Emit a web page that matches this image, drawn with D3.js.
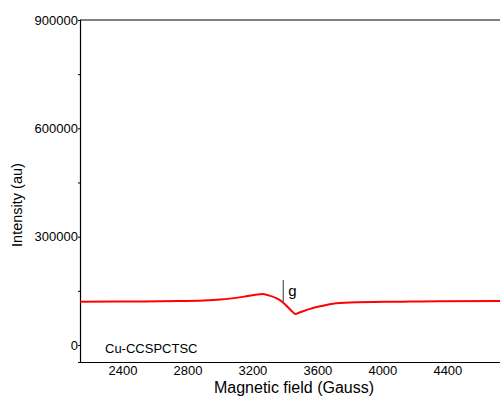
<!DOCTYPE html>
<html>
<head>
<meta charset="utf-8">
<script src="https://cdn.jsdelivr.net/npm/d3@7"></script>
<style>
  body { margin: 0; background: #fff; }
  svg { display: block; font-family: Arial, "Liberation Sans", sans-serif; }
</style>
</head>
<body>
<svg id="chart" width="500" height="398"></svg>
<script>
// EPR spectrum of Cu-CCSPCTSC
const fieldGauss = [2140, 2400, 2750, 2900, 3000, 3060, 3150, 3230, 3260, 3300, 3350, 3380, 3420, 3445, 3465, 3490, 3554, 3634, 3696, 3800, 4108, 4354, 4725];
const intensity  = [120000, 120500, 121800, 123500, 126000, 128500, 134000, 140000, 141000, 137500, 129000, 121000, 104000, 93000, 86000, 90000, 100000, 108800, 114500, 117700, 120000, 121500, 121800];
const xTicks = [2400, 2800, 3200, 3600, 4000, 4400];
const yTicks = [0, 300000, 600000, 900000];
const yMinorTicks = [150000, 450000, 750000];
const gField = 3390;
const sampleName = "Cu-CCSPCTSC";

const svg = d3.select("#chart");
const plotLeft = 80, plotRight = 500, plotTop = 20, plotBottom = 362;

const x = d3.scaleLinear().domain([2139, 4724]).range([plotLeft, plotRight]);
const y = d3.scaleLinear().domain([-47000, 900000]).range([plotBottom, plotTop]);

// Y axis
const yAxis = svg.append("g").attr("transform", `translate(${plotLeft},0)`)
  .call(d3.axisLeft(y).tickValues(yTicks).tickSize(2).tickPadding(0).tickFormat(d3.format("d")));
yAxis.select(".domain").attr("stroke", "#000").attr("stroke-width", 1.2);
yAxis.selectAll("text").attr("font-size", 13).attr("fill", "#000");
svg.append("g").attr("transform", `translate(${plotLeft},0)`)
  .call(d3.axisLeft(y).tickValues(yMinorTicks).tickSize(2).tickFormat(""))
  .select(".domain").remove();

// X axis
const xAxis = svg.append("g").attr("transform", `translate(0,${plotBottom})`)
  .call(d3.axisBottom(x).tickValues(xTicks).tickSize(0).tickPadding(4).tickFormat(d3.format("d")));
xAxis.select(".domain").attr("stroke", "#000").attr("stroke-width", 1.2);
xAxis.selectAll("text").attr("font-size", 13).attr("fill", "#000");

// Top frame line
svg.append("line").attr("x1", plotLeft).attr("x2", plotRight).attr("y1", plotTop).attr("y2", plotTop)
  .attr("stroke", "#000").attr("stroke-width", 1.2);

// Spectrum
const line = d3.line().x((d, i) => x(fieldGauss[i])).y(d => y(d)).curve(d3.curveMonotoneX);
svg.append("path").datum(intensity).attr("d", line)
  .attr("fill", "none").attr("stroke", "#ff0000").attr("stroke-width", 2);

// g-value marker
svg.append("line").attr("x1", x(gField)).attr("x2", x(gField)).attr("y1", y(180000)).attr("y2", y(118000))
  .attr("stroke", "#555").attr("stroke-width", 1.2);
svg.append("text").attr("x", x(gField) + 5).attr("y", y(150000) + 5)
  .attr("font-size", 15).attr("fill", "#000").text("g");

// Sample label
svg.append("text").attr("x", 105).attr("y", 353).attr("font-size", 13).attr("fill", "#000").text(sampleName);

// Axis titles
svg.append("text").attr("x", 294).attr("y", 393).attr("text-anchor", "middle")
  .attr("font-size", 16).attr("fill", "#000").text("Magnetic field (Gauss)");
svg.append("text").attr("transform", "translate(22,205) rotate(-90)").attr("text-anchor", "middle")
  .attr("font-size", 14.5).attr("fill", "#000").text("Intensity (au)");
</script>
</body>
</html>
